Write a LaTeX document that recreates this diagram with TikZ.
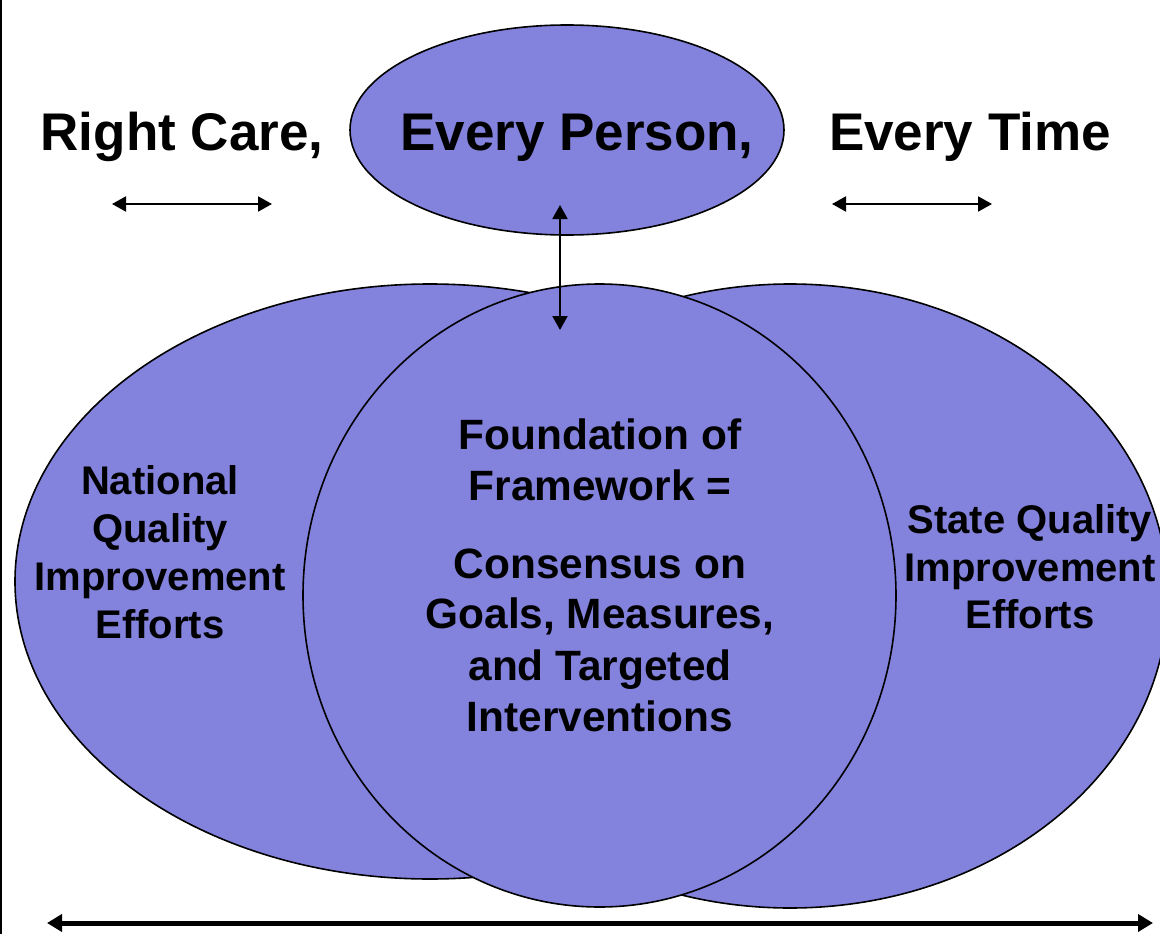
\documentclass[tikz,border=0pt]{standalone}
\usepackage{fontspec}
\setmainfont{Liberation Sans}
\usetikzlibrary{shapes.geometric,arrows.meta}
\definecolor{blob}{RGB}{131,131,222}
\tikzset{
  blobshape/.style={ellipse, draw=black, line width=1.6pt, fill=blob, inner sep=0pt},
  head/.style={anchor=base, inner sep=0pt, font=\fontsize{53}{60}\selectfont\bfseries},
  mid/.style={anchor=base, inner sep=0pt, font=\fontsize{42.4}{50}\selectfont\bfseries},
  side/.style={anchor=base, inner sep=0pt, font=\fontsize{40}{46}\selectfont\bfseries},
  dbl/.style={{Triangle[length=14pt,width=15pt]}-{Triangle[length=14pt,width=15pt]}, line width=2pt},
  big/.style={{Triangle[length=15pt,width=17pt]}-{Triangle[length=15pt,width=17pt]}, line width=5pt}
}
\begin{document}
\begin{tikzpicture}[x=1pt,y=-1pt]
\useasboundingbox (0,0) rectangle (1160,934);
\fill[white] (0,0) rectangle (1160,934);
\draw[line width=2pt] (1,0) -- (1,934);
% shapes
\node[blobshape, minimum width=830pt, minimum height=595pt] (nat) at (430,581.5) {};
\node[blobshape, minimum width=756pt, minimum height=624pt] (state) at (790,596) {};
\node[blobshape, minimum width=593pt, minimum height=623pt] (found) at (599.5,595.5) {};
\node[blobshape, minimum width=434pt, minimum height=210pt] (top) at (567,130) {};
% headings
\node[head] (t1) at (182,150) {Right Care,};
\node[head] (t2) at (577,150) {Every Person,};
\node[head] (t3) at (970,150) {Every Time};
% small arrows
\coordinate (la) at (112,204); \coordinate (lb) at (272,204);
\coordinate (ra) at (832,204); \coordinate (rb) at (992,204);
\draw[dbl] (la) -- (lb);
\draw[dbl] (ra) -- (rb);
\coordinate (va) at (560,205); \coordinate (vb) at (560,330);
\draw[dbl] (va) -- (vb);
% bottom arrow
\coordinate (ba) at (47,923); \coordinate (bb) at (1153,923);
\draw[big] (ba) -- (bb);
% left text
\node[side] (n1) at (160,494) {National};
\node[side] (n2) at (160,542) {Quality};
\node[side] (n3) at (160,590) {Improvement};
\node[side] (n4) at (160,638) {Efforts};
% right text
\node[side] (s1) at (1030,533) {State Quality};
\node[side] (s2) at (1030,581) {Improvement};
\node[side] (s3) at (1030,628) {Efforts};
% centre text
\node[mid] (c1) at (600,449) {Foundation of};
\node[mid] (c2) at (600,500) {Framework =};
\node[mid] (c3) at (600,578) {Consensus on};
\node[mid] (c4) at (600,628) {Goals, Measures,};
\node[mid] (c5) at (600,680) {and Targeted};
\node[mid] (c6) at (600,731) {Interventions};
\end{tikzpicture}
\end{document}
